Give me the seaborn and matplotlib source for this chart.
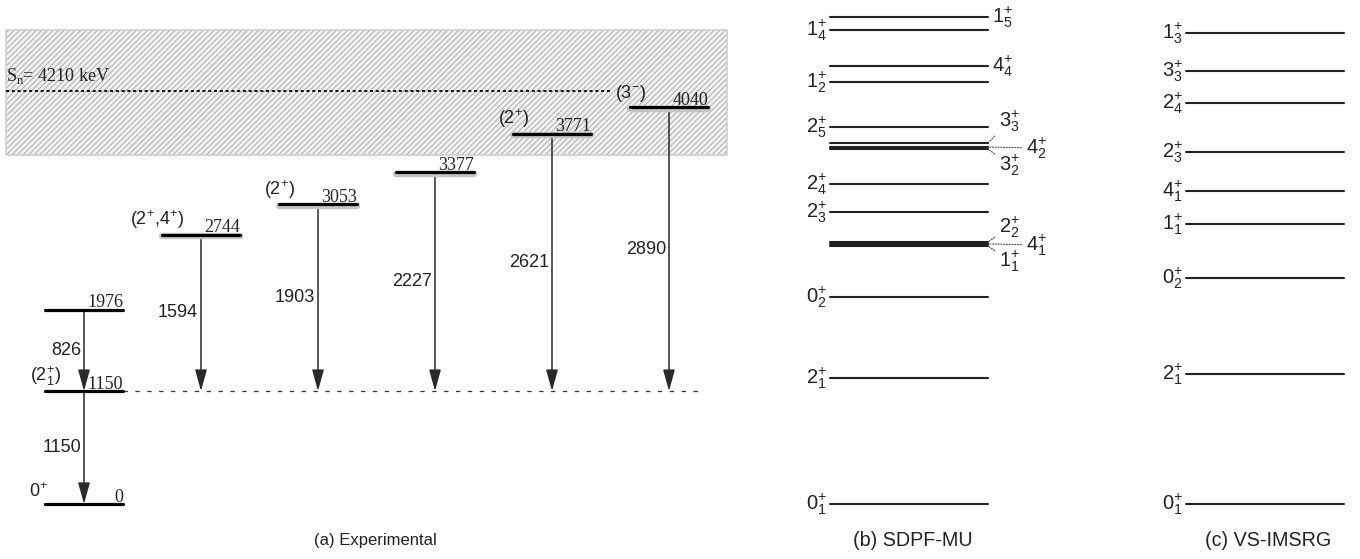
import matplotlib
matplotlib.use("Agg")
import matplotlib.pyplot as plt
import matplotlib.patheffects as pe
from matplotlib.patches import Rectangle
import seaborn as sns
import pandas as pd

# ---------------- data ----------------
# Experimental levels (keV) and spin labels
exp_levels = [0, 1150, 1976, 2744, 3053, 3377, 3771, 4040]
exp_spins = [r"0$^{+}$", r"(2$^{+}_{1}$)", "", r"(2$^{+}$,4$^{+}$)", r"(2$^{+}$)", "",
             r"(2$^{+}$)", r"(3$^{-}$)"]
# gamma transitions: (initial level, final level)
gamma_from = [1976, 1150, 2744, 3053, 3377, 3771, 4040]
gamma_to = [1150, 0, 1150, 1150, 1150, 1150, 1150]
gamma_labels = ["826", "1150", "1594", "1903", "2227", "2621", "2890"]
sn_energy = 4210
region_low, region_high = 3554, 4827

# SDPF-MU levels
sdpf_E = [0, 1283, 2108, 2627, 2648, 2668, 2974, 3259, 3615, 3635, 3676, 3839, 4297, 4460, 4827, 4959]
sdpf_J = ["0", "2", "0", "1", "4", "2", "2", "2", "3", "4", "3", "2", "1", "4", "1", "1"]
sdpf_n = ["1", "1", "2", "1", "1", "2", "3", "4", "2", "2", "3", "5", "2", "4", "4", "5"]

# VS-IMSRG levels
vs_E = [0, 1324, 2301, 2851, 3187, 3585, 4084, 4409, 4796]
vs_J = ["0", "2", "0", "1", "4", "2", "2", "3", "1"]
vs_n = ["1", "1", "2", "1", "1", "3", "4", "3", "3"]

captions = ["(a) Experimental", "(b) SDPF-MU", "(c) VS-IMSRG"]

# ---------------- layout / style ----------------
W, H = 1360, 559
KEV_PER_PX = 5692 / 559
exp_col_of_level = [0, 0, 0, 1, 2, 3, 4, 5]
exp_x0_first, exp_col_step, exp_half = 45, 117, 39
sdpf_x = (830, 988)
vs_x = (1186, 1344)
sdpf_side = ["L", "L", "L", "D", "F", "U", "L", "L", "D", "F", "U", "L", "L", "R", "L", "R"]
caption_x = [375, 913, 1268]
caption_size = [12, 14.2, 14.2]
TH_FS = 14.5

sns.set_theme(style="white")
plt.rcParams["font.family"] = ["Liberation Sans", "DejaVu Sans"]
plt.rcParams["mathtext.fontset"] = "custom"
plt.rcParams["mathtext.rm"] = "Liberation Sans"
plt.rcParams["mathtext.it"] = "Liberation Sans:italic"
plt.rcParams["mathtext.bf"] = "Liberation Sans:bold"
plt.rcParams["hatch.linewidth"] = 0.7

fig = plt.figure(figsize=(W / 100, H / 100), dpi=100)
ax = fig.add_axes([0, 0, 1, 1])


def px(v):
    return v * KEV_PER_PX


# hatched region
ax.add_patch(Rectangle((6, region_low), 721, region_high - region_low, facecolor="#f1f1f1",
                       edgecolor="#ababab", hatch="//////", lw=0, zorder=0))
ax.add_patch(Rectangle((6, region_low), 721, region_high - region_low, fill=False,
                       edgecolor="#cfcfcf", lw=1.2, zorder=0))

# Sn line and label
ax.plot([6, 610], [sn_energy, sn_energy], color="black", lw=1.3, ls=(0, (1.7, 1.5)), zorder=2)
ax.text(6, sn_energy + px(5), r"S$_{\mathregular{n}}$= " + f"{sn_energy} keV", family="Liberation Serif",
        fontsize=13, ha="left", va="bottom", color="#222222")

# experimental levels
rows_plain, rows_shadow = [], []
exp_x0 = []
for i, (E, c) in enumerate(zip(exp_levels, exp_col_of_level)):
    xc = exp_x0_first + exp_half + c * exp_col_step
    x0, x1 = xc - exp_half, xc + exp_half
    exp_x0.append((x0, x1, xc))
    target = rows_plain if c == 0 else rows_shadow
    target += [dict(x=x0, E=E, id=i), dict(x=x1, E=E, id=i)]

sns.lineplot(data=pd.DataFrame(rows_plain), x="x", y="E", units="id", estimator=None,
             color="black", lw=2.3, ax=ax, legend=False, zorder=4)
sns.lineplot(data=pd.DataFrame(rows_shadow), x="x", y="E", units="id", estimator=None,
             color="black", lw=2.3, ax=ax, legend=False, zorder=4,
             path_effects=[pe.Stroke(offset=(0, -1.3), linewidth=4.6, foreground="#c4c4c4"), pe.Normal()])

for (x0, x1, xc), E, s in zip(exp_x0, exp_levels, exp_spins):
    ax.text(x1, E + px(2.5), str(E), family="Liberation Serif", fontsize=13, ha="right",
            va="baseline", color="#222222", zorder=5)
    if s:
        dx = -7 if E == 0 else (-5 if "4" in s else 0)
        ax.text(x0 + dx, E + px(3.5), s, fontsize=13, ha="center", va="bottom", color="#222222")

# dashed line at the 2+ level
ax.plot([123, 700], [1150, 1150], color="#333333", lw=0.9, ls=(0, (3.5, 6)), zorder=1)

# gamma arrows
for ef, et, g in zip(gamma_from, gamma_to, gamma_labels):
    xc = exp_x0[exp_levels.index(ef)][2]
    ax.annotate("", xy=(xc, et), xytext=(xc, ef),
                arrowprops=dict(arrowstyle="-|>,head_length=1.3,head_width=0.36", mutation_scale=10,
                                color="#2a2a2a", lw=1.1, shrinkA=0, shrinkB=0), zorder=3)
    ax.text(xc - 3, (ef + et) / 2, g, fontsize=13, ha="right", va="center", color="#222222")


# theory levels
def theory(E_list, J_list, n_list, xr, sides):
    rows = []
    for i, E in enumerate(E_list):
        rows += [dict(x=xr[0], E=E, id=i), dict(x=xr[1], E=E, id=i)]
    sns.lineplot(data=pd.DataFrame(rows), x="x", y="E", units="id", estimator=None,
                 color="#222222", lw=1.5, ax=ax, legend=False, zorder=4)
    for E, J, n, sd in zip(E_list, J_list, n_list, sides):
        lab = f"${J}^{{+}}_{{{n}}}$"
        if sd == "L":
            ax.text(xr[0] - 3, E, lab, fontsize=TH_FS, ha="right", va="center", color="#222222")
        elif sd == "R":
            ax.text(xr[1] + 4, E, lab, fontsize=TH_FS, ha="left", va="center", color="#222222")
        else:
            if sd == "F":
                off = (38, -1)
            elif sd == "U":
                off = (11, 22 if E > 3000 else 15)
            else:
                off = (11, -16 if E > 3000 else -15)
            ax.annotate(lab, xy=(xr[1], E), xytext=(off[0] * 0.72, off[1] * 0.72),
                        textcoords="offset points", fontsize=TH_FS, ha="left", va="center",
                        color="#222222",
                        arrowprops=dict(arrowstyle="-", color="#444444", lw=0.8, ls=(0, (1, 1.5)),
                                        shrinkA=1, shrinkB=0))


theory(sdpf_E, sdpf_J, sdpf_n, sdpf_x, sdpf_side)
theory(vs_E, vs_J, vs_n, vs_x, ["L"] * len(vs_E))

for cx, cap, fs in zip(caption_x, captions, caption_size):
    fig.text(cx / W, 1 - 541 / H, cap, ha="center", va="center", fontsize=fs, color="#222222")

ax.set_xlim(0, W)
ax.set_ylim(-560, 5132)
ax.axis("off")
fig.savefig("out.png", dpi=100)
